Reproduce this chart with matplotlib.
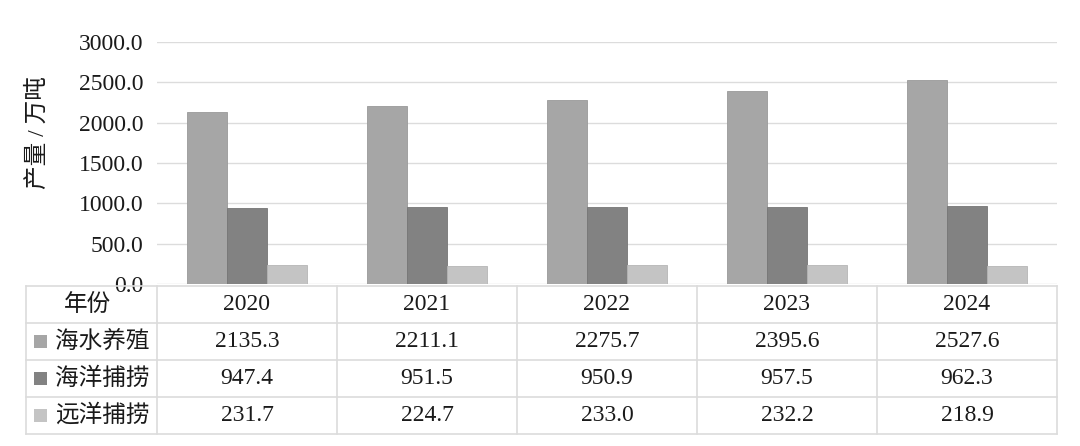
import matplotlib.pyplot as plt
from matplotlib.patches import Rectangle

plt.rcParams['font.family'] = ['Liberation Serif', 'Noto Sans CJK SC']
plt.rcParams['font.size'] = 17

years = ['2020', '2021', '2022', '2023', '2024']
series = ['海水养殖', '海洋捕捞', '远洋捕捞']
mariculture = [2135.3, 2211.1, 2275.7, 2395.6, 2527.6]
marine_catch = [947.4, 951.5, 950.9, 957.5, 962.3]
distant_catch = [231.7, 224.7, 233.0, 232.2, 218.9]
values = [mariculture, marine_catch, distant_catch]
colors = ['#a6a6a6', '#828282', '#c4c4c4']
edges = ['#999999', '#757575', '#b5b5b5']
text_color = '#1a1a1a'
line_color = '#dcdcdc'

W, H = 1080, 446
fig = plt.figure(figsize=(W / 100, H / 100), dpi=100)

# bar area (pixel layout measured from reference)
ax = fig.add_axes([157 / W, 1 - 284 / H, 900 / W, 242 / H])
bw = 0.222
for j in range(len(series)):
    xs = [i + (j - 1) * bw for i in range(len(years))]
    ax.bar(xs, values[j], width=bw, color=colors[j], edgecolor=edges[j],
           linewidth=0.6, zorder=3)
ax.set_xlim(-0.5, len(years) - 0.5)
ax.set_ylim(0, 3000)
ax.set_yticks(range(0, 3001, 500))
ax.set_yticklabels(['%.1f' % v for v in range(0, 3001, 500)], color=text_color)
ax.tick_params(axis='y', length=0, pad=10)
ax.set_xticks([])
ax.grid(axis='y', color=line_color, linewidth=1, zorder=0)
for s in ax.spines.values():
    s.set_visible(False)
fig.text(38 / W, 1 - 133 / H, '产量 / 万吨', rotation=90, ha='center',
         va='center', color=text_color)

# data table below
lab_w = 131 / 180
tax = fig.add_axes([26 / W, 1 - 434 / H, 1031 / W, 148 / H])
x0 = -0.5 - lab_w
x1 = len(years) - 0.5
tax.set_xlim(x0, x1)
tax.set_ylim(4, 0)
tax.axis('off')
for r in range(5):
    tax.plot([x0, x1], [r, r], color=line_color, lw=1.2, clip_on=False)
for c in [x0] + [i - 0.5 for i in range(len(years) + 1)]:
    tax.plot([c, c], [0, 4], color=line_color, lw=1.2, clip_on=False)

tax.text(x0 + lab_w / 2 - 0.02, 0.5, '年份', ha='center', va='center',
         color=text_color)
for i, y in enumerate(years):
    tax.text(i, 0.5, y, ha='center', va='center', color=text_color)
for j, name in enumerate(series):
    sq = 13 / 180
    tax.add_patch(Rectangle((x0 + 8 / 180, j + 1.5 - 0.18), sq, 0.36,
                            facecolor=colors[j], edgecolor='none'))
    tax.text(x0 + 29 / 180, j + 1.5, name, ha='left', va='center',
             color=text_color)
    for i in range(len(years)):
        tax.text(i, j + 1.5, '%.1f' % values[j][i], ha='center', va='center',
                 color=text_color)

fig.savefig('out.png', dpi=100, facecolor='white')
